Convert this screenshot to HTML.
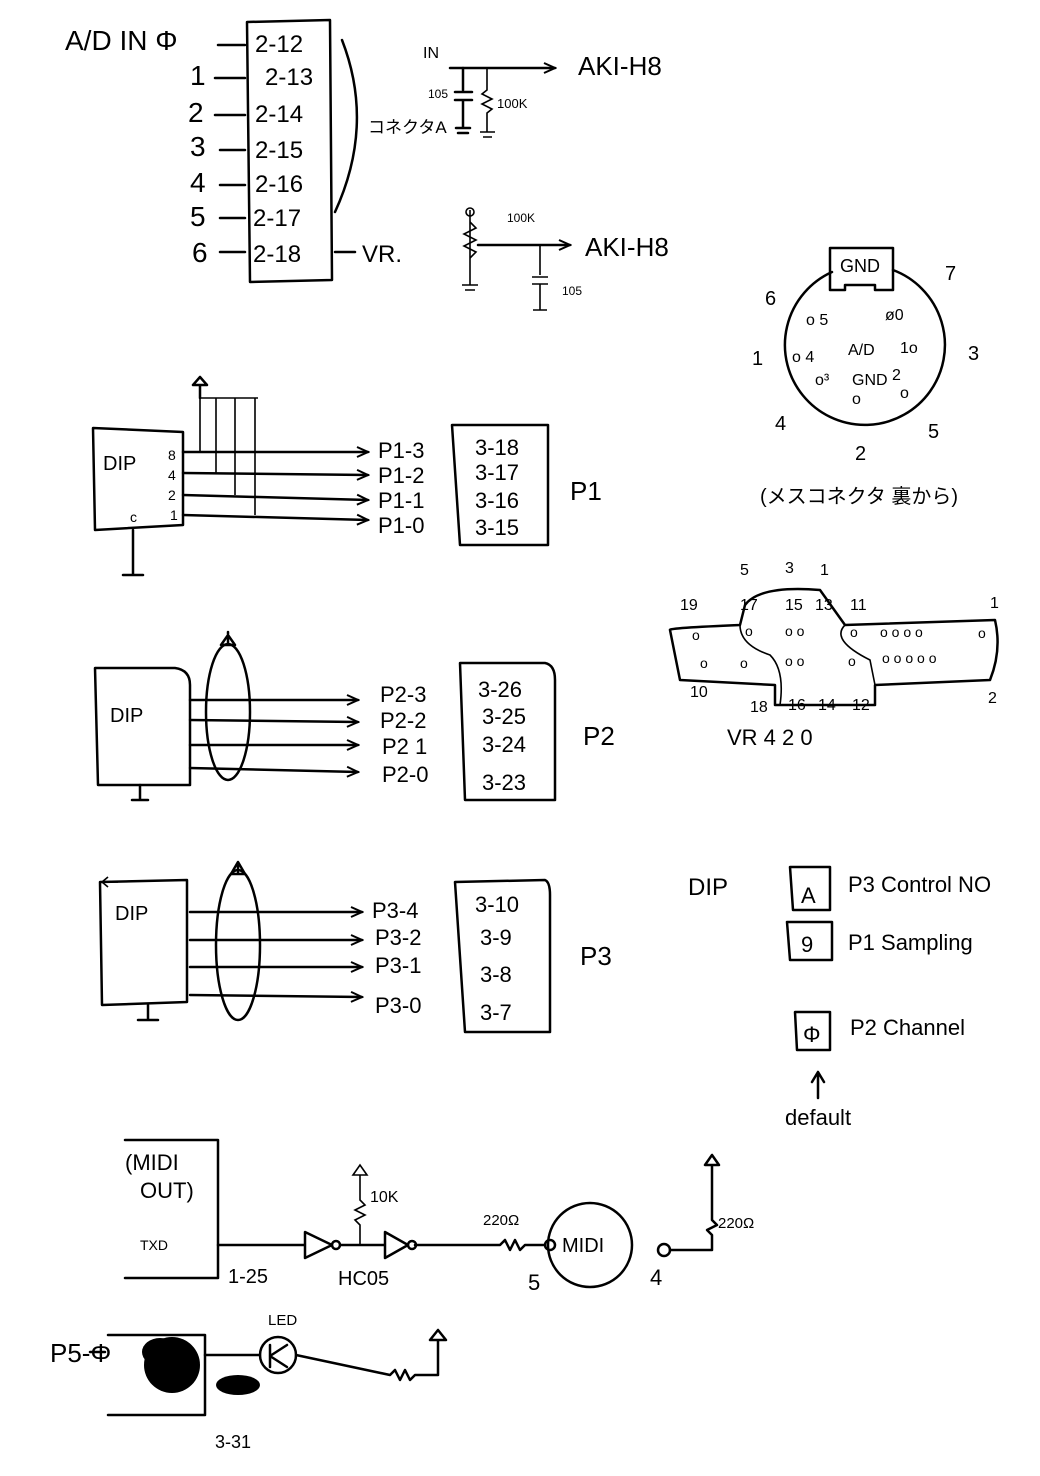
<!DOCTYPE html>
<html><head><meta charset="utf-8"><style>
html,body{margin:0;padding:0;background:#fff;}
svg{display:block}
text{font-family:"Liberation Sans","Noto Sans CJK JP",sans-serif;fill:#000}
.l{stroke:#000;stroke-width:2.5;fill:none;stroke-linecap:round;stroke-linejoin:round}
.t{stroke:#000;stroke-width:1.6;fill:none}
</style></head><body>
<svg width="1040" height="1476" viewBox="0 0 1040 1476">
<defs><marker id="a" markerUnits="userSpaceOnUse" markerWidth="14" markerHeight="14" refX="12" refY="7" orient="auto"><path d="M1,2 L12,7 L1,12" fill="none" stroke="#000" stroke-width="2"/></marker></defs>

<!-- A/D section -->
<text x="65" y="50" font-size="28">A/D IN Φ</text>
<g font-size="28"><text x="190" y="85">1</text><text x="188" y="122">2</text><text x="190" y="156">3</text><text x="190" y="192">4</text><text x="190" y="226">5</text><text x="192" y="262">6</text></g>
<path class="l" d="M247,22 L330,20 L332,280 L250,282 Z"/>
<g class="l"><path d="M218,45H245M215,78H245M215,115H245M220,150H245M220,185H245M220,218H245M220,252H245M335,252H355"/></g>
<g font-size="24"><text x="255" y="52">2-12</text><text x="265" y="85">2-13</text><text x="255" y="122">2-14</text><text x="255" y="158">2-15</text><text x="255" y="192">2-16</text><text x="253" y="226">2-17</text><text x="253" y="262">2-18</text></g>
<text x="362" y="262" font-size="24">VR.</text>
<path class="l" d="M342,40 Q375,125 335,212"/>
<text x="368" y="133" font-size="17">コネクタA</text>

<text x="423" y="58" font-size="16">IN</text>
<path class="l" d="M450,68 L555,68" marker-end="url(#a)"/>
<text x="578" y="75" font-size="26">AKI-H8</text>
<path class="l" d="M463,68V90M455,92H472M455,100H472M463,100V128M456,128H470M458,133H468"/>
<path class="t" d="M487,68V90L482,94L492,99L482,104L492,109L487,113V132M480,132H495M483,137H492"/>
<text x="428" y="98" font-size="12">105</text><text x="497" y="108" font-size="13">100K</text>

<path class="t" d="M470,210V285M462,285H478M465,290H475"/>
<circle cx="470" cy="212" r="4" class="t"/>
<path class="t" d="M470,222 L476,228 L464,234 L476,240 L464,246 L476,252 L470,258"/>
<path class="l" d="M478,245 L570,245" marker-end="url(#a)"/>
<text x="507" y="222" font-size="12">100K</text>
<text x="585" y="256" font-size="26">AKI-H8</text>
<path class="t" d="M540,245V275M532,277H548M532,284H548M540,284V310M533,310H547"/>
<text x="562" y="295" font-size="12">105</text>

<!-- round connector -->
<path class="l" d="M832,272 A80,80 0 1 0 893,270"/>
<path class="l" d="M830,248 H893 V290 H875 V285 H845 V290 H830 Z"/>
<text x="840" y="272" font-size="18">GND</text>
<g font-size="20"><text x="765" y="305">6</text><text x="945" y="280">7</text><text x="752" y="365">1</text><text x="968" y="360">3</text><text x="775" y="430">4</text><text x="928" y="438">5</text><text x="855" y="460">2</text></g>
<g font-size="16"><text x="806" y="325">o 5</text><text x="885" y="320">ø0</text><text x="792" y="362">o 4</text><text x="848" y="355">A/D</text><text x="900" y="353">1o</text><text x="815" y="385">o³</text><text x="852" y="385">GND</text><text x="892" y="380">2</text><text x="852" y="404">o</text><text x="900" y="398">o</text></g>
<text x="760" y="503" font-size="20">(メスコネクタ 裏から)</text>

<!-- P1 -->
<path class="l" d="M93,428 L183,432 L183,525 L95,530 Z"/>
<text x="103" y="470" font-size="20">DIP</text>
<g font-size="14"><text x="168" y="460">8</text><text x="168" y="480">4</text><text x="168" y="500">2</text><text x="170" y="520">1</text><text x="130" y="522">c</text></g>
<path class="l" d="M133,530V575M123,575H143"/>
<path class="l" d="M200,398V385M193,385H207L200,377Z"/>
<path class="t" d="M200,398H258M200,398V452M216,398V473M235,398V495M255,398V515"/>
<g class="l">
<path d="M183,452 L368,452" marker-end="url(#a)"/>
<path d="M183,473 L368,475" marker-end="url(#a)"/>
<path d="M183,495 L368,500" marker-end="url(#a)"/>
<path d="M183,515 L368,520" marker-end="url(#a)"/></g>
<g font-size="22"><text x="378" y="458">P1-3</text><text x="378" y="483">P1-2</text><text x="378" y="508">P1-1</text><text x="378" y="533">P1-0</text></g>
<path class="l" d="M452,425 L548,425 L548,545 L460,545 Z"/>
<g font-size="22"><text x="475" y="455">3-18</text><text x="475" y="480">3-17</text><text x="475" y="508">3-16</text><text x="475" y="535">3-15</text></g>
<text x="570" y="500" font-size="26">P1</text>

<!-- P2 -->
<path class="l" d="M95,668 L175,668 Q190,670 190,685 L190,785 L98,785 Z"/>
<text x="110" y="722" font-size="20">DIP</text>
<path class="l" d="M140,785V800M132,800H148"/>
<ellipse cx="228" cy="712" rx="22" ry="68" class="l"/>
<path class="l" d="M228,644V632M221,645H235L228,635Z"/>
<g class="l">
<path d="M190,700 L358,700" marker-end="url(#a)"/>
<path d="M190,720 L358,722" marker-end="url(#a)"/>
<path d="M190,745 L358,745" marker-end="url(#a)"/>
<path d="M190,768 L358,772" marker-end="url(#a)"/></g>
<g font-size="22"><text x="380" y="702">P2-3</text><text x="380" y="728">P2-2</text><text x="382" y="754">P2 1</text><text x="382" y="782">P2-0</text></g>
<path class="l" d="M460,663 L545,663 Q555,665 555,680 L555,800 L465,800 Z"/>
<g font-size="22"><text x="478" y="697">3-26</text><text x="482" y="724">3-25</text><text x="482" y="752">3-24</text><text x="482" y="790">3-23</text></g>
<text x="583" y="745" font-size="26">P2</text>

<!-- P3 -->
<path class="l" d="M100,882 L187,880 L187,1002 L102,1005 Z"/>
<path class="t" d="M118,882 L102,882"/><path class="t" d="M108,877 L102,882 L108,887"/>
<text x="115" y="920" font-size="20">DIP</text>
<path class="l" d="M148,1005V1020M138,1020H158"/>
<ellipse cx="238" cy="945" rx="22" ry="75" class="l"/>
<path class="l" d="M238,872V866M231,874H245L238,862Z"/>
<g class="l">
<path d="M190,912 L362,912" marker-end="url(#a)"/>
<path d="M190,940 L362,940" marker-end="url(#a)"/>
<path d="M190,967 L362,967" marker-end="url(#a)"/>
<path d="M190,995 L362,997" marker-end="url(#a)"/></g>
<g font-size="22"><text x="372" y="918">P3-4</text><text x="375" y="945">P3-2</text><text x="375" y="973">P3-1</text><text x="375" y="1013">P3-0</text></g>
<path class="l" d="M455,882 L545,880 Q550,882 550,895 L550,1032 L465,1032 Z"/>
<g font-size="22"><text x="475" y="912">3-10</text><text x="480" y="945">3-9</text><text x="480" y="982">3-8</text><text x="480" y="1020">3-7</text></g>
<text x="580" y="965" font-size="26">P3</text>

<!-- D-sub connector -->
<path class="l" d="M670,630 Q668,628 740,625 L745,605 Q760,585 820,590 L845,625 L995,620 Q1002,650 990,680 L875,685 L875,705 L775,705 L775,685 L680,680 Z"/>
<path class="t" d="M740,625 Q740,645 770,655 Q785,670 780,705 M845,625 Q830,640 870,660 L875,685"/>
<g font-size="16"><text x="740" y="575">5</text><text x="785" y="573">3</text><text x="820" y="575">1</text><text x="680" y="610">19</text><text x="740" y="610">17</text><text x="785" y="610">15</text><text x="815" y="610">13</text><text x="850" y="610">11</text><text x="990" y="608">1</text>
<text x="690" y="697">10</text><text x="750" y="712">18</text><text x="788" y="710">16</text><text x="818" y="710">14</text><text x="852" y="710">12</text><text x="988" y="703">2</text></g>
<g font-size="14"><text x="692" y="640">o</text><text x="745" y="636">o</text><text x="785" y="636">o o</text><text x="850" y="637">o</text><text x="880" y="637">o o o o</text><text x="978" y="638">o</text>
<text x="700" y="668">o</text><text x="740" y="668">o</text><text x="785" y="666">o o</text><text x="848" y="666">o</text><text x="882" y="663">o o o o o</text></g>
<text x="727" y="745" font-size="22">VR 4 2 0</text>

<!-- DIP legend -->
<text x="688" y="895" font-size="24">DIP</text>
<path class="l" d="M790,867H830V910H793Z"/><text x="801" y="903" font-size="22">A</text>
<text x="848" y="892" font-size="22">P3  Control NO</text>
<path class="l" d="M787,922H832V960H790Z"/><text x="801" y="952" font-size="22">9</text>
<text x="848" y="950" font-size="22">P1  Sampling</text>
<path class="l" d="M795,1012H830V1050H797Z"/><text x="803" y="1042" font-size="22">Φ</text>
<text x="850" y="1035" font-size="22">P2  Channel</text>
<path class="l" d="M818,1098V1075M812,1082L818,1072L824,1082"/>
<text x="785" y="1125" font-size="22">default</text>

<!-- MIDI -->
<path class="l" d="M125,1140H218V1278H125"/>
<text x="125" y="1170" font-size="22">(MIDI</text><text x="140" y="1198" font-size="22">OUT)</text>
<text x="140" y="1250" font-size="14">TXD</text>
<path class="l" d="M218,1245H305M305,1232V1258L332,1245Z M340,1245H385M385,1232V1258L408,1245Z M415,1245H500 L505,1240 L510,1250 L515,1240 L520,1250 L525,1245 H545"/>
<circle cx="336" cy="1245" r="4" class="l"/><circle cx="412" cy="1245" r="4" class="l"/>
<path class="t" d="M360,1245V1225L355,1220L365,1215L355,1210L365,1205L360,1200V1175M353,1175H367L360,1165Z"/>
<text x="370" y="1202" font-size="16">10K</text>
<text x="228" y="1283" font-size="20">1-25</text><text x="338" y="1285" font-size="20">HC05</text>
<text x="483" y="1225" font-size="15">220Ω</text>
<ellipse cx="590" cy="1245" rx="42" ry="42" class="l"/>
<circle cx="550" cy="1245" r="5" class="l"/>
<text x="562" y="1252" font-size="20">MIDI</text>
<text x="528" y="1290" font-size="22">5</text>
<circle cx="664" cy="1250" r="6" class="l"/>
<text x="650" y="1285" font-size="22">4</text>
<path class="l" d="M670,1250H712V1235L707,1230L717,1225L712,1220V1165M705,1165H719L712,1155Z"/>
<text x="718" y="1228" font-size="15">220Ω</text>

<!-- P5 -->
<text x="50" y="1362" font-size="26">P5-Φ</text>
<path class="l" d="M90,1352H105M108,1335H205V1415H108"/>
<ellipse cx="172" cy="1365" rx="28" ry="28" fill="#000"/>
<ellipse cx="160" cy="1352" rx="18" ry="14" fill="#000"/>
<circle cx="278" cy="1355" r="18" class="l"/>
<path class="l" d="M270,1345V1367M270,1356L287,1345M270,1356L287,1367M205,1355H260M296,1355 L390,1375 L395,1370 L400,1380 L405,1370 L410,1380 L415,1375 H438 V1340 M430,1340H446L438,1330Z"/>
<text x="268" y="1325" font-size="15">LED</text>
<ellipse cx="238" cy="1385" rx="22" ry="10" fill="#000"/>
<text x="215" y="1448" font-size="18">3-31</text>
</svg>
</body></html>
